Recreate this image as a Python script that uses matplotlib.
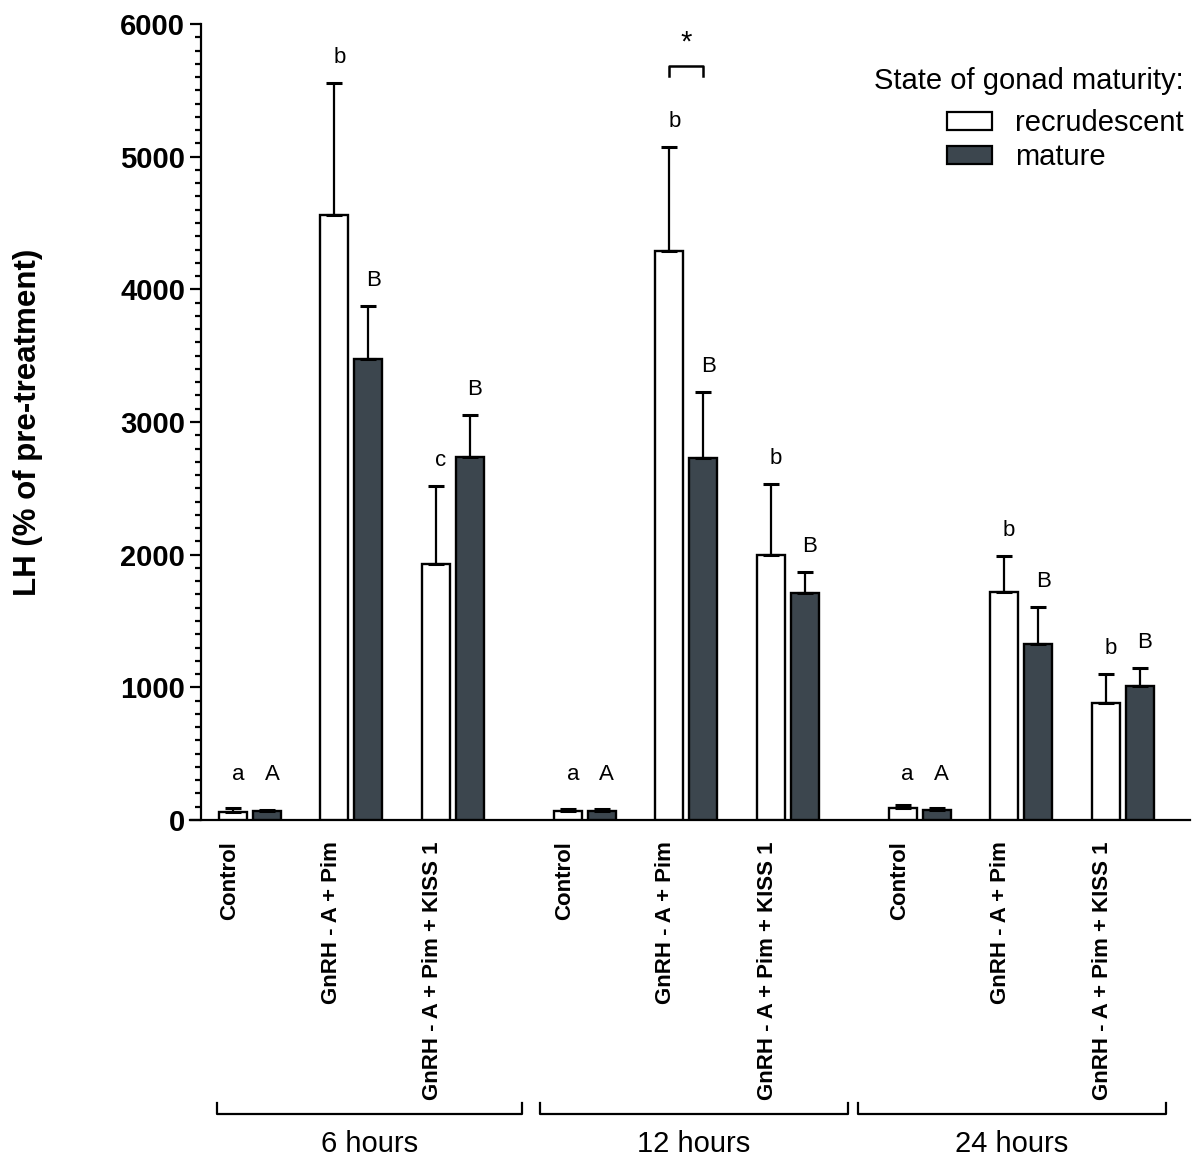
import matplotlib
matplotlib.use("Agg")
import matplotlib.pyplot as plt
import matplotlib.transforms as mtransforms
from matplotlib.patches import Patch
import numpy as np

plt.rcParams['font.family'] = ['Liberation Sans', 'DejaVu Sans']

# Data
times = ["6 hours", "12 hours", "24 hours"]
treatments = ["Control", "GnRH - A + Pim", "GnRH - A + Pim + KISS 1"]

recr_mean = [63, 4559, 1931, 70, 4292, 1995, 90, 1720, 880]
recr_sem = [25, 997, 590, 13, 782, 535, 23, 272, 219]
mat_mean = [70, 3474, 2738, 70, 2728, 1710, 75, 1326, 1010]
mat_sem = [8, 399, 312, 13, 497, 161, 15, 279, 134]

recr_letters = ["a", "b", "c", "a", "b", "b", "a", "b", "b"]
mat_letters = ["A", "B", "B", "A", "B", "B", "A", "B", "B"]

# layout
cluster_step = 3.3
bar_w = 0.276
off = 0.1675
dark = "#3c464e"

x = np.array([c * cluster_step + i for c in range(3) for i in range(3)])

fig = plt.figure(figsize=(11.92, 11.57), dpi=100)
ax = fig.add_axes([201 / 1192, 1 - 820 / 1157, 989 / 1192, 796 / 1157])

ax.bar(x - off, recr_mean, bar_w, color="white", edgecolor="black", linewidth=1.7, zorder=3)
ax.bar(x + off, mat_mean, bar_w, color=dark, edgecolor="black", linewidth=1.7, zorder=3)
zeros = [0] * len(x)
ax.errorbar(x - off, recr_mean, yerr=[zeros, recr_sem], fmt="none", ecolor="black",
            elinewidth=1.6, capsize=5.5, capthick=2.2, zorder=4)
ax.errorbar(x + off, mat_mean, yerr=[zeros, mat_sem], fmt="none", ecolor="black",
            elinewidth=1.6, capsize=5.5, capthick=2.2, zorder=4)

# significance letters
for xi, m, s, t in zip(x - off, recr_mean, recr_sem, recr_letters):
    ax.text(xi + 0.05, max(m + s + 150, 300), t, ha="center", va="baseline", fontsize=16)
for xi, m, s, t in zip(x + off, mat_mean, mat_sem, mat_letters):
    ax.text(xi + 0.05, max(m + s + 150, 300), t, ha="center", va="baseline", fontsize=16)

# asterisk bracket at 12 hours GnRH - A + Pim
bx = x[4]
ax.plot([bx - off, bx - off, bx + off, bx + off], [5607, 5682, 5682, 5607],
        color="black", lw=1.8, clip_on=False)
ax.text(bx, 5860, "*", ha="center", va="center", fontsize=21)

ax.set_xlim(-0.483, 9.265)
ax.set_ylim(0, 6000)
ax.spines["top"].set_visible(False)
ax.spines["right"].set_visible(False)
ax.spines["left"].set_linewidth(1.6)
ax.spines["bottom"].set_linewidth(1.6)
ax.spines["bottom"].set_bounds(-0.59, 9.265)
ax.set_xticks([])
ax.set_yticks(np.arange(0, 6001, 1000))
ax.set_yticks(np.arange(0, 6001, 100), minor=True)
ax.tick_params(axis="y", which="major", length=8, width=1.6, pad=3.5, labelsize=21)
ax.tick_params(axis="y", which="minor", length=4.3, width=1.6)
for lab in ax.get_yticklabels():
    lab.set_fontweight("bold")

fig.text(28 / 1192, 1 - 422 / 1157, "LH (% of pre-treatment)", rotation=90,
         ha="center", va="center", fontsize=22.5, fontweight="bold")

# category labels under the bars
trans = mtransforms.blended_transform_factory(ax.transData, ax.transAxes)
for xi, k in zip(x, range(len(x))):
    ax.text(xi - 0.2, -0.027, treatments[k % 3], rotation=90, ha="center", va="top",
            fontsize=16, fontweight="bold", transform=trans, clip_on=False)

# time brackets
spans = [(-0.325, 2.68), (2.857, 5.891), (5.99, 9.024)]
for (a, b), t in zip(spans, times):
    ax.plot([a, a, b, b], [-0.355, -0.369, -0.369, -0.355], color="black", lw=1.6,
            transform=trans, clip_on=False)
    ax.text((a + b) / 2, -0.407, t, ha="center", va="center", fontsize=21,
            transform=trans)

# legend
fig.text(1184 / 1192, 1 - 81 / 1157, "State of gonad maturity:", ha="right", va="center",
         fontsize=21)
handles = [Patch(facecolor="white", edgecolor="black", linewidth=1.6),
           Patch(facecolor=dark, edgecolor="black", linewidth=1.6)]
ax.legend(handles, ["recrudescent", "mature"],
          loc="upper right", bbox_to_anchor=(1184 / 1192, 1 - 109 / 1157),
          bbox_transform=fig.transFigure, frameon=False,
          fontsize=21, handlelength=1.55, handleheight=0.58,
          handletextpad=0.8, labelspacing=0.22, borderpad=0, borderaxespad=0)

fig.savefig("out.png", dpi=100)
